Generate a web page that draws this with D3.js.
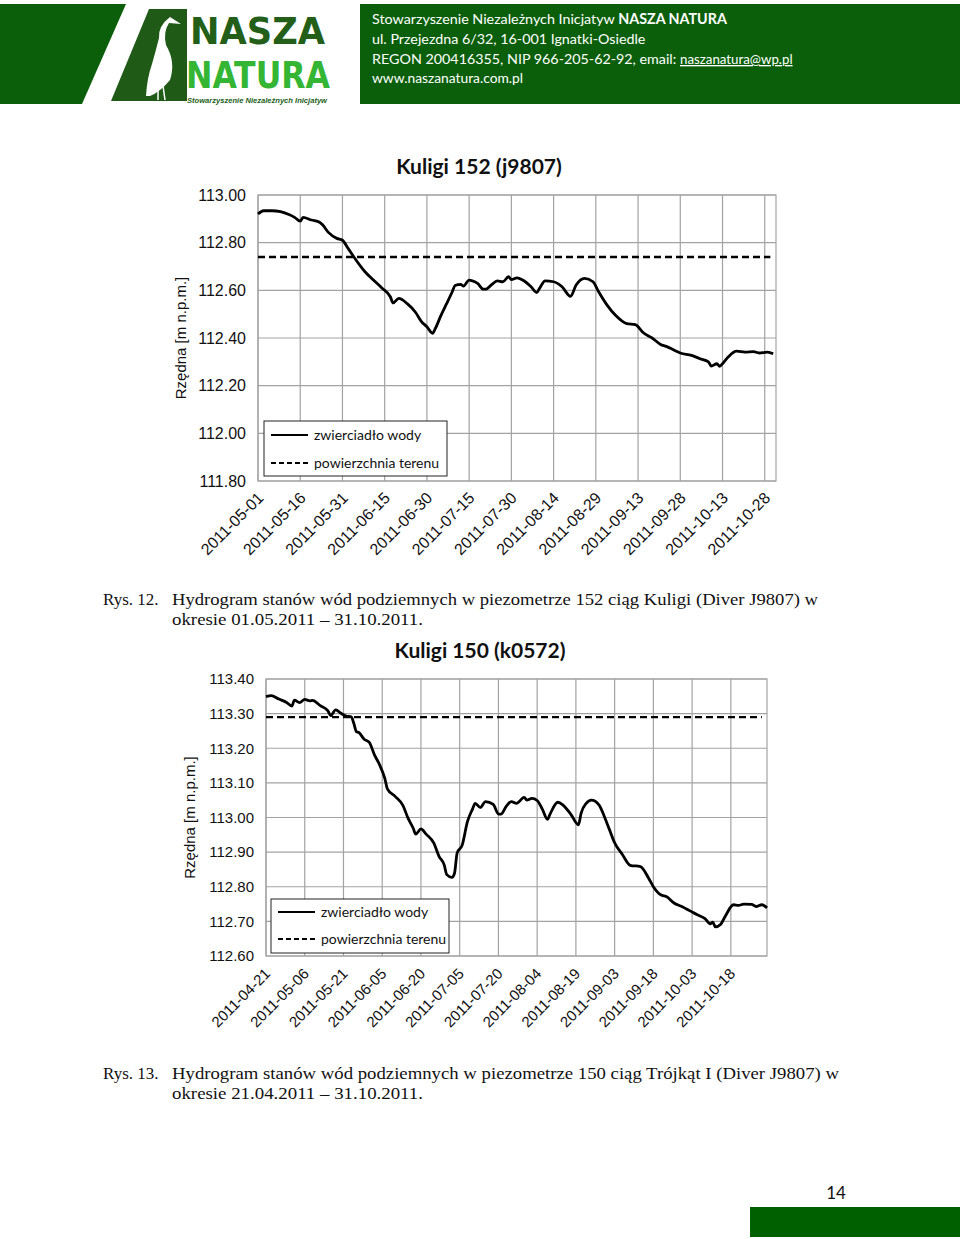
<!DOCTYPE html>
<html><head><meta charset="utf-8">
<script src="https://cdn.jsdelivr.net/npm/d3@7"></script>
<style>html,body{margin:0;padding:0;background:#fff;}svg{display:block;}</style>
</head><body>
<script>
// ---------- DATA ----------
const chart1Title = "Kuligi 152 (j9807)";
const chart1Dates = ["2011-05-01","2011-05-03","2011-05-06","2011-05-09","2011-05-12","2011-05-14","2011-05-16","2011-05-17","2011-05-20","2011-05-23","2011-05-24","2011-05-26","2011-05-29","2011-05-31","2011-06-02","2011-06-04","2011-06-08","2011-06-11","2011-06-14","2011-06-17","2011-06-18","2011-06-20","2011-06-23","2011-06-26","2011-06-28","2011-06-30","2011-07-02","2011-07-03","2011-07-05","2011-07-07","2011-07-09","2011-07-10","2011-07-12","2011-07-13","2011-07-15","2011-07-17","2011-07-18","2011-07-20","2011-07-21","2011-07-23","2011-07-25","2011-07-27","2011-07-29","2011-07-30","2011-08-01","2011-08-03","2011-08-06","2011-08-08","2011-08-09","2011-08-11","2011-08-14","2011-08-17","2011-08-20","2011-08-22","2011-08-25","2011-08-28","2011-08-30","2011-09-02","2011-09-05","2011-09-09","2011-09-12","2011-09-15","2011-09-18","2011-09-21","2011-09-23","2011-09-26","2011-09-28","2011-10-02","2011-10-05","2011-10-08","2011-10-09","2011-10-11","2011-10-12","2011-10-13","2011-10-15","2011-10-18","2011-10-21","2011-10-24","2011-10-26","2011-10-29","2011-10-31"];
const chart1Levels = [112.920,112.934,112.934,112.930,112.918,112.906,112.890,112.906,112.895,112.885,112.874,112.843,112.818,112.810,112.776,112.741,112.678,112.643,112.610,112.573,112.547,112.566,112.544,112.507,112.470,112.447,112.420,112.440,112.495,112.544,112.594,112.620,112.625,112.618,112.643,112.636,112.629,112.605,112.605,112.624,112.640,112.636,112.657,112.645,112.652,112.643,112.615,112.591,112.608,112.640,112.636,112.615,112.575,112.622,112.650,112.636,112.594,112.538,112.495,112.460,112.456,112.421,112.400,112.373,112.365,112.348,112.337,112.327,112.313,112.300,112.282,112.292,112.281,112.292,112.320,112.345,112.341,112.343,112.337,112.341,112.334];
const chart1GroundDates = ["2011-05-01","2011-10-30"];
const chart1GroundLevel = 112.74;
const chart1Domain = ["2011-05-01","2011-11-01"];
const chart1XTicks = ["2011-05-01","2011-05-16","2011-05-31","2011-06-15","2011-06-30","2011-07-15","2011-07-30","2011-08-14","2011-08-29","2011-09-13","2011-09-28","2011-10-13","2011-10-28"];
const chart1YTicks = [111.8,112.0,112.2,112.4,112.6,112.8,113.0];

const chart2Title = "Kuligi 150 (k0572)";
const chart2Dates = ["2011-04-21","2011-04-23","2011-04-26","2011-04-29","2011-05-01","2011-05-02","2011-05-04","2011-05-06","2011-05-08","2011-05-09","2011-05-12","2011-05-15","2011-05-16","2011-05-18","2011-05-20","2011-05-22","2011-05-24","2011-05-25","2011-05-26","2011-05-27","2011-05-29","2011-05-31","2011-06-02","2011-06-04","2011-06-06","2011-06-07","2011-06-10","2011-06-13","2011-06-15","2011-06-17","2011-06-18","2011-06-20","2011-06-22","2011-06-25","2011-06-27","2011-06-29","2011-06-30","2011-07-02","2011-07-03","2011-07-04","2011-07-06","2011-07-08","2011-07-10","2011-07-11","2011-07-13","2011-07-15","2011-07-18","2011-07-20","2011-07-21","2011-07-23","2011-07-25","2011-07-27","2011-07-30","2011-07-31","2011-08-02","2011-08-04","2011-08-06","2011-08-08","2011-08-09","2011-08-12","2011-08-14","2011-08-17","2011-08-20","2011-08-21","2011-08-23","2011-08-25","2011-08-28","2011-08-30","2011-09-01","2011-09-03","2011-09-06","2011-09-09","2011-09-13","2011-09-16","2011-09-18","2011-09-21","2011-09-23","2011-09-26","2011-09-29","2011-10-02","2011-10-05","2011-10-08","2011-10-10","2011-10-11","2011-10-12","2011-10-14","2011-10-16","2011-10-19","2011-10-21","2011-10-23","2011-10-26","2011-10-28","2011-10-30","2011-11-01"];
const chart2Levels = [113.349,113.352,113.342,113.332,113.322,113.339,113.332,113.341,113.337,113.338,113.323,113.308,113.294,113.311,113.301,113.293,113.291,113.272,113.248,113.245,113.226,113.217,113.181,113.152,113.113,113.083,113.061,113.035,112.998,112.969,112.952,112.967,112.952,112.926,112.888,112.863,112.835,112.827,112.839,112.897,112.921,112.988,113.025,113.041,113.029,113.046,113.038,113.010,113.010,113.032,113.046,113.041,113.058,113.050,113.055,113.049,113.024,112.995,113.010,113.044,113.036,113.010,112.979,113.012,113.041,113.050,113.036,113.003,112.965,112.927,112.893,112.862,112.858,112.827,112.800,112.776,112.772,112.753,112.743,112.731,112.719,112.708,112.693,112.698,112.684,112.691,112.717,112.748,112.746,112.750,112.749,112.743,112.748,112.739];
const chart2GroundDates = ["2011-04-21","2011-10-30"];
const chart2GroundLevel = 113.29;
const chart2Domain = ["2011-04-21","2011-11-01"];
const chart2XTicks = ["2011-04-21","2011-05-06","2011-05-21","2011-06-05","2011-06-20","2011-07-05","2011-07-20","2011-08-04","2011-08-19","2011-09-03","2011-09-18","2011-10-03","2011-10-18"];
const chart2YTicks = [112.6,112.7,112.8,112.9,113.0,113.1,113.2,113.3,113.4];

const legendLabels = ["zwierciadło wody","powierzchnia terenu"];
const yAxisLabel = "Rzędna [m n.p.m.]";

// ---------- PAGE ----------
const GREEN = "#0b5f0b";
const svg = d3.select("body").append("svg").attr("width",960).attr("height",1239);
const parse = d3.timeParse("%Y-%m-%d");

// header
svg.append("polygon").attr("points","0,4 126,4 82,104 0,104").attr("fill",GREEN);
svg.append("polygon").attr("points","149,9 187,9 187,101 111,101").attr("fill","#1f5a17");
// stork (decorative)
svg.append("path").attr("d","M170,17 L181,24 L169,23 Q163,32 166,45 Q176,62 170,80 Q160,92 150,96 L146,96 Q147,78 152,64 Q156,50 159,38 Q158,26 170,17 Z").attr("fill","#fff");
svg.append("path").attr("d","M158,88 L158,100 M163,86 L165,100").attr("stroke","#fff").attr("stroke-width",1.5);
svg.append("text").attr("x",190).attr("y",44).attr("font-family","DejaVu Sans Condensed, DejaVu Sans").attr("font-weight","bold")
  .attr("font-size",37).attr("fill","#235f19").attr("textLength",135).attr("lengthAdjust","spacingAndGlyphs").text("NASZA");
svg.append("text").attr("x",186).attr("y",88).attr("font-family","DejaVu Sans Condensed, DejaVu Sans").attr("font-weight","bold")
  .attr("font-size",37).attr("fill","#34b534").attr("textLength",144).attr("lengthAdjust","spacingAndGlyphs").text("NATURA");
svg.append("text").attr("x",187).attr("y",103).attr("font-family","Liberation Sans").attr("font-style","italic").attr("font-weight","bold")
  .attr("font-size",6.5).attr("fill","#235f19").attr("textLength",140).attr("lengthAdjust","spacingAndGlyphs").text("Stowarzyszenie Niezależnych Inicjatyw");
svg.append("rect").attr("x",360).attr("y",4).attr("width",600).attr("height",100).attr("fill",GREEN);
const hdr = svg.append("g").attr("font-family","Lato").attr("font-size",14.3).attr("fill","#fff");
const l1 = hdr.append("text").attr("x",372).attr("y",24);
l1.append("tspan").text("Stowarzyszenie Niezależnych Inicjatyw ");
l1.append("tspan").attr("font-weight","bold").text("NASZA NATURA");
hdr.append("text").attr("x",372).attr("y",44).text("ul. Przejezdna 6/32, 16-001 Ignatki-Osiedle");
const l3 = hdr.append("text").attr("x",372).attr("y",64);
l3.append("tspan").text("REGON 200416355, NIP 966-205-62-92, email: ");
l3.append("tspan").attr("text-decoration","underline").attr("font-size",13.3).text("naszanatura@wp.pl");
hdr.append("text").attr("x",372).attr("y",83).attr("font-size",13.8).text("www.naszanatura.com.pl");

// ---------- CHART ----------
function drawChart(cfg){
  const g = svg.append("g");
  const x = d3.scaleTime().domain(cfg.domain.map(parse)).range([cfg.left,cfg.right]);
  const y = d3.scaleLinear().domain(d3.extent(cfg.yTicks)).range([cfg.bottom,cfg.top]);
  const grid = "#a3a3a3";
  g.append("g").selectAll("line").data(cfg.yTicks).join("line")
    .attr("x1",cfg.left).attr("x2",cfg.right).attr("y1",d=>y(d)).attr("y2",d=>y(d))
    .attr("stroke",grid).attr("stroke-width",1.2);
  g.append("g").selectAll("line").data(cfg.xTicks.map(parse)).join("line")
    .attr("x1",d=>x(d)).attr("x2",d=>x(d)).attr("y1",cfg.top).attr("y2",cfg.bottom)
    .attr("stroke",grid).attr("stroke-width",1.2);
  g.append("rect").attr("x",cfg.left).attr("y",cfg.top).attr("width",cfg.right-cfg.left).attr("height",cfg.bottom-cfg.top)
    .attr("fill","none").attr("stroke",grid).attr("stroke-width",1.2);
  const ya = g.append("g").attr("transform",`translate(${cfg.left},0)`)
    .call(d3.axisLeft(y).tickValues(cfg.yTicks).tickFormat(d3.format(".2f")).tickSize(0).tickPadding(12));
  ya.select(".domain").remove();
  ya.selectAll("text").attr("font-family","Liberation Sans").attr("font-size",cfg.fs).attr("fill","#111");
  const xa = g.append("g").attr("transform",`translate(0,${cfg.bottom})`)
    .call(d3.axisBottom(x).tickValues(cfg.xTicks.map(parse)).tickFormat(d3.timeFormat("%Y-%m-%d")).tickSize(0));
  xa.select(".domain").remove();
  xa.selectAll("text").attr("font-family","Liberation Sans").attr("font-size",cfg.fs).attr("fill","#111")
    .attr("text-anchor","end").attr("y",0).attr("dy","0.35em")
    .attr("transform",`translate(${cfg.xlDx},${cfg.xlDy}) rotate(-45)`);
  g.append("text").attr("transform",`translate(${cfg.yLabelX},${(cfg.top+cfg.bottom)/2}) rotate(-90)`)
    .attr("text-anchor","middle").attr("dy","0.35em").attr("font-family","Liberation Sans").attr("font-size",15)
    .attr("fill","#111").text(yAxisLabel);
  g.append("text").attr("x",cfg.titleX).attr("y",cfg.titleY).attr("text-anchor","middle")
    .attr("font-family","Lato").attr("font-weight","bold").attr("font-size",21).attr("fill","#111").text(cfg.title);
  const series = cfg.dates.map((d,i)=>({date:parse(d),value:cfg.levels[i]}));
  const line = d3.line().x(d=>x(d.date)).y(d=>y(d.value)).curve(d3.curveMonotoneX);
  g.append("path").datum(series).attr("d",line).attr("fill","none").attr("stroke","#000").attr("stroke-width",2.8).attr("stroke-linejoin","round");
  const ground = cfg.groundDates.map(d=>({date:parse(d),value:cfg.ground}));
  g.append("path").datum(ground).attr("d",d3.line().x(d=>x(d.date)).y(d=>y(d.value)))
    .attr("fill","none").attr("stroke","#000").attr("stroke-width",2.4).attr("stroke-dasharray","7,4");
  const lg = g.append("g").attr("transform",`translate(${cfg.left+cfg.lgDx},${cfg.bottom-cfg.lgH-cfg.lgDy})`);
  lg.append("rect").attr("width",cfg.lgW).attr("height",cfg.lgH).attr("fill","#fff").attr("stroke","#222").attr("stroke-width",1);
  const rows = [{label:legendLabels[0],dash:null},{label:legendLabels[1],dash:"5,3"}];
  rows.forEach((r,i)=>{
    const yy = cfg.lgRow0 + i*cfg.lgRowStep;
    lg.append("line").attr("x1",7).attr("x2",44).attr("y1",yy).attr("y2",yy).attr("stroke","#000").attr("stroke-width",2)
      .attr("stroke-dasharray",r.dash);
    lg.append("text").attr("x",50).attr("y",yy).attr("dy","0.35em").attr("font-family","Lato").attr("font-size",14)
      .attr("fill","#111").text(r.label);
  });
}

drawChart({title:chart1Title,dates:chart1Dates,levels:chart1Levels,groundDates:chart1GroundDates,ground:chart1GroundLevel,
  domain:chart1Domain,xTicks:chart1XTicks,yTicks:chart1YTicks,left:258,right:776,top:195,bottom:481,fs:16,xlDx:2,xlDy:14,
  yLabelX:181,titleX:479,titleY:174,lgDx:6,lgDy:5,lgW:183,lgH:55,lgRow0:14,lgRowStep:28});
drawChart({title:chart2Title,dates:chart2Dates,levels:chart2Levels,groundDates:chart2GroundDates,ground:chart2GroundLevel,
  domain:chart2Domain,xTicks:chart2XTicks,yTicks:chart2YTicks,left:266,right:767,top:679,bottom:956,fs:15,xlDx:1,xlDy:15,
  yLabelX:190,titleX:480,titleY:658,lgDx:5,lgDy:3,lgW:178,lgH:54,lgRow0:13,lgRowStep:27});

// captions
const cap = svg.append("g").attr("font-family","Liberation Serif").attr("font-size",17).attr("fill","#111");
cap.append("text").attr("x",103).attr("y",605).text("Rys. 12.");
cap.append("text").attr("x",172).attr("y",605).attr("textLength",646).attr("lengthAdjust","spacingAndGlyphs")
  .text("Hydrogram stanów wód podziemnych w piezometrze 152 ciąg Kuligi (Diver J9807) w");
cap.append("text").attr("x",172).attr("y",625).attr("textLength",251).attr("lengthAdjust","spacingAndGlyphs")
  .text("okresie 01.05.2011 – 31.10.2011.");
cap.append("text").attr("x",103).attr("y",1079).text("Rys. 13.");
cap.append("text").attr("x",172).attr("y",1079).attr("textLength",667).attr("lengthAdjust","spacingAndGlyphs")
  .text("Hydrogram stanów wód podziemnych w piezometrze 150 ciąg Trójkąt I (Diver J9807) w");
cap.append("text").attr("x",172).attr("y",1099).attr("textLength",251).attr("lengthAdjust","spacingAndGlyphs")
  .text("okresie 21.04.2011 – 31.10.2011.");

// footer
svg.append("text").attr("x",836).attr("y",1199).attr("text-anchor","middle").attr("font-family","Lato").attr("font-size",17).attr("fill","#111").text("14");
svg.append("rect").attr("x",750).attr("y",1207).attr("width",210).attr("height",30).attr("fill","#006000");
</script>
</body></html>
